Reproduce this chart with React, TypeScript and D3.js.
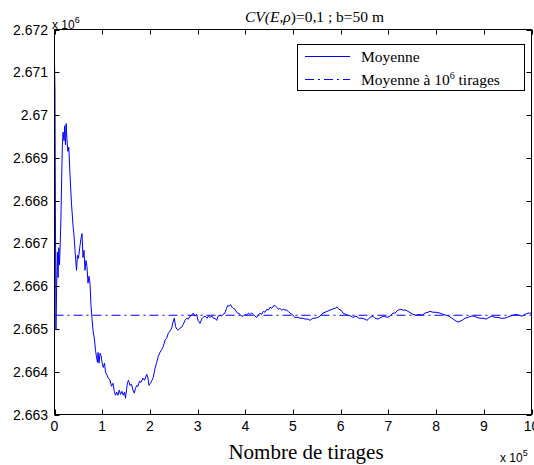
import React from 'react';
import * as d3 from 'd3';

// Nombre de tirages (x 10^5)
const tirages = [
  0, 0.01, 0.02, 0.03, 0.045, 0.06, 0.075, 0.09, 0.105, 0.12, 0.135, 0.15, 0.165, 0.18, 0.2, 0.215, 0.23, 0.245, 0.26,
  0.28, 0.3, 0.325, 0.356, 0.388, 0.409, 0.43, 0.461, 0.482, 0.503, 0.535, 0.556, 0.577, 0.597, 0.618, 0.639, 0.66,
  0.681, 0.702, 0.723, 0.744, 0.765, 0.786, 0.807, 0.839, 0.86, 0.881, 0.901, 0.912, 0.933, 0.954, 0.975, 0.996,
  1.023, 1.048, 1.069, 1.101, 1.128, 1.164, 1.195, 1.226, 1.254, 1.279, 1.304, 1.331, 1.358, 1.384, 1.415, 1.442,
  1.468, 1.488, 1.514, 1.53, 1.551, 1.583, 1.614, 1.646, 1.673, 1.698, 1.723, 1.751, 1.782, 1.813, 1.855, 1.887,
  1.933, 1.96, 1.981, 2.013, 2.044, 2.071, 2.107, 2.143, 2.176, 2.212, 2.247, 2.281, 2.317, 2.352, 2.386, 2.421,
  2.457, 2.484, 2.512, 2.537, 2.568, 2.595, 2.631, 2.666, 2.7, 2.736, 2.771, 2.805, 2.841, 2.876, 2.91, 2.945,
  2.981, 3.008, 3.05, 3.086, 3.113, 3.155, 3.197, 3.224, 3.26, 3.302, 3.329, 3.365, 3.4, 3.428, 3.47, 3.505,
  3.532, 3.574, 3.606, 3.631, 3.658, 3.69, 3.721, 3.748, 3.784, 3.82, 3.847, 3.889, 3.92, 3.958, 3.994, 4.029,
  4.067, 4.099, 4.13, 4.168, 4.203, 4.239, 4.266, 4.308, 4.34, 4.377, 4.413, 4.449, 4.486, 4.518, 4.553, 4.581,
  4.623, 4.654, 4.692, 4.727, 4.763, 4.801, 4.832, 4.868, 4.901, 4.937, 4.979, 5.042, 5.105, 5.147, 5.21, 5.252,
  5.315, 5.356, 5.419, 5.461, 5.524, 5.566, 5.629, 5.713, 5.776, 5.818, 5.881, 5.922, 5.964, 6.006, 6.048, 6.111,
  6.153, 6.216, 6.258, 6.321, 6.384, 6.447, 6.509, 6.551, 6.614, 6.677, 6.719, 6.782, 6.845, 6.908, 6.971, 7.034,
  7.096, 7.138, 7.201, 7.264, 7.306, 7.369, 7.411, 7.474, 7.516, 7.579, 7.642, 7.704, 7.767, 7.83, 7.872, 7.935,
  7.998, 8.082, 8.145, 8.208, 8.27, 8.333, 8.396, 8.459, 8.501, 8.543, 8.606, 8.669, 8.732, 8.795, 8.858, 8.92,
  8.983, 9.046, 9.109, 9.172, 9.235, 9.298, 9.361, 9.423, 9.486, 9.549, 9.612, 9.675, 9.738, 9.801, 9.864, 9.927, 10.0,
];

// Moyenne (x 10^6)
const moyenne = [
  2.67125, 2.6706, 2.6675, 2.665, 2.666, 2.6668, 2.6662, 2.6669, 2.6665, 2.667, 2.6676, 2.6685, 2.6693, 2.6696,
  2.6694, 2.66975, 2.6693, 2.6698, 2.66945, 2.66915, 2.66925, 2.6686, 2.66794, 2.66742, 2.66719, 2.66684,
  2.66637, 2.66672, 2.66665, 2.66695, 2.66712, 2.66723, 2.66667, 2.66684, 2.66637, 2.6666, 2.66646, 2.66607,
  2.66623, 2.66607, 2.66555, 2.66525, 2.66497, 2.66474, 2.6645, 2.66434, 2.66422, 2.66445, 2.6642, 2.66443,
  2.66438, 2.66422, 2.6641, 2.6642, 2.66399, 2.66392, 2.66385, 2.6638, 2.66366, 2.66373, 2.66354, 2.66345,
  2.66352, 2.66345, 2.66357, 2.66347, 2.66354, 2.66345, 2.66352, 2.66338, 2.66361, 2.66375, 2.6638, 2.66368,
  2.66371, 2.66357, 2.6635, 2.66361, 2.66368, 2.66366, 2.66378, 2.66375, 2.66385, 2.6638, 2.66394, 2.66385,
  2.66368, 2.66373, 2.6638, 2.66387, 2.66408, 2.66422, 2.66436, 2.66445, 2.66452, 2.66459, 2.66474, 2.66478,
  2.6649, 2.66495, 2.66502, 2.66516, 2.66525, 2.66506, 2.66499, 2.66497, 2.66502, 2.66504, 2.66511, 2.6652,
  2.66525, 2.66523, 2.6653, 2.66532, 2.66537, 2.6653, 2.66534, 2.6652, 2.66513, 2.66523, 2.66527, 2.6653,
  2.66525, 2.6653, 2.66527, 2.6653, 2.66525, 2.66525, 2.6652, 2.6653, 2.66532, 2.6653, 2.66534, 2.66537,
  2.66548, 2.66555, 2.66553, 2.66557, 2.66551, 2.66548, 2.66546, 2.66539, 2.66537, 2.66534, 2.6653, 2.6653,
  2.66534, 2.66532, 2.66537, 2.66534, 2.66537, 2.66534, 2.6653, 2.66527, 2.66532, 2.66537, 2.66534, 2.66541,
  2.66539, 2.66546, 2.66544, 2.66551, 2.66548, 2.66553, 2.66555, 2.66551, 2.66546, 2.66548, 2.66544, 2.66546,
  2.66544, 2.66544, 2.66541, 2.66537, 2.66534, 2.66527, 2.66527, 2.66525, 2.66525, 2.66523, 2.66523, 2.6652,
  2.66525, 2.66525, 2.66527, 2.6653, 2.66537, 2.66541, 2.66544, 2.66546, 2.66548, 2.66551, 2.66546, 2.66544,
  2.66537, 2.66534, 2.66532, 2.6653, 2.66527, 2.6653, 2.66525, 2.66525, 2.66523, 2.6652, 2.66527, 2.6653,
  2.66525, 2.66523, 2.66527, 2.6653, 2.66527, 2.6653, 2.66537, 2.66537, 2.66544, 2.66546, 2.66544, 2.66544,
  2.66541, 2.66537, 2.66534, 2.66532, 2.66534, 2.66532, 2.66537, 2.66539, 2.66541, 2.66539, 2.66539, 2.66537,
  2.66534, 2.66532, 2.6653, 2.66525, 2.6652, 2.66516, 2.66518, 2.6652, 2.66525, 2.66527, 2.6653, 2.6653,
  2.66527, 2.66525, 2.66525, 2.66523, 2.66527, 2.6653, 2.66527, 2.66527, 2.66525, 2.66525, 2.66527, 2.6653,
  2.66532, 2.66534, 2.66532, 2.6653, 2.66534, 2.66537, 2.66537,
];

// Moyenne à 10^6 tirages (x 10^6)
const moyenneRef = 2.66532;

const xTicks = [0, 1, 2, 3, 4, 5, 6, 7, 8, 9, 10];
const xTickLabels = ['0', '1', '2', '3', '4', '5', '6', '7', '8', '9', '10'];
const yTicks = [2.663, 2.664, 2.665, 2.666, 2.667, 2.668, 2.669, 2.67, 2.671, 2.672];
const yTickLabels = ['2.663', '2.664', '2.665', '2.666', '2.667', '2.668', '2.669', '2.67', '2.671', '2.672'];

const W = 534;
const H = 465;
const L = 54.5;
const R = 531.5;
const T = 29.5;
const B = 414.5;
const BLUE = '#0000ff';
const SANS = "'Liberation Sans', Arial, sans-serif";
const SERIF = "'Liberation Serif', 'Times New Roman', serif";

export default function App() {
  const x = d3.scaleLinear().domain([0, 10]).range([L, R]);
  const y = d3.scaleLinear().domain([2.663, 2.672]).range([B, T]);
  const pts: [number, number][] = tirages.map((t, i) => [t, moyenne[i]]);
  const line = d3
    .line<[number, number]>()
    .x((d) => x(d[0]))
    .y((d) => y(d[1]));
  const tick = 5;
  return (
    <svg
      width={W}
      height={H}
      style={{ position: 'absolute', left: 0, top: 0, background: '#fff' }}
    >
      <rect x={0} y={0} width={W} height={H} fill="#fff" />
      <defs>
        <clipPath id="plot">
          <rect x={L} y={T} width={R - L} height={B - T} />
        </clipPath>
      </defs>
      {/* reference line */}
      <line
        x1={L}
        x2={R}
        y1={y(moyenneRef)}
        y2={y(moyenneRef)}
        stroke={BLUE}
        strokeWidth={1}
        strokeDasharray="9,4,2,4"
      />
      <path d={line(pts) || ''} fill="none" stroke={BLUE} strokeWidth={1} clipPath="url(#plot)" />
      {/* box */}
      <rect x={L} y={T} width={R - L} height={B - T} fill="none" stroke="#000" strokeWidth={1} />
      {xTicks.map((t) => (
        <g key={'xt' + t}>
          <line x1={Math.round(x(t)) + 0.5} x2={Math.round(x(t)) + 0.5} y1={B} y2={B - tick} stroke="#000" />
          <line x1={Math.round(x(t)) + 0.5} x2={Math.round(x(t)) + 0.5} y1={T} y2={T + tick} stroke="#000" />
        </g>
      ))}
      {yTicks.map((t) => (
        <g key={'yt' + t}>
          <line x1={L} x2={L + tick} y1={Math.round(y(t)) + 0.5} y2={Math.round(y(t)) + 0.5} stroke="#000" />
          <line x1={R} x2={R - tick} y1={Math.round(y(t)) + 0.5} y2={Math.round(y(t)) + 0.5} stroke="#000" />
        </g>
      ))}
      {xTicks.map((t, i) => (
        <text key={'xl' + t} x={x(t)} y={431} textAnchor="middle" fontFamily={SANS} fontSize={14} fill="#000">
          {xTickLabels[i]}
        </text>
      ))}
      {yTicks.map((t, i) => (
        <text key={'yl' + t} x={48} y={y(t) + 5} textAnchor="end" fontFamily={SANS} fontSize={14} fill="#000">
          {yTickLabels[i]}
        </text>
      ))}
      {/* exponents */}
      <text x={52} y={29} fontFamily={SANS} fontSize={12} fill="#000">
        x 10
        <tspan dy={-6} fontSize={9}>6</tspan>
      </text>
      <text x={500} y={462} fontFamily={SANS} fontSize={12} fill="#000">
        x 10
        <tspan dy={-6} fontSize={9}>5</tspan>
      </text>
      {/* title */}
      <text x={245} y={22} fontFamily={SERIF} fontSize={15.5} fill="#000">
        <tspan fontStyle="italic">CV(E,ρ</tspan>
        <tspan>)=0,1 ; b=50 m</tspan>
      </text>
      {/* x label */}
      <text x={306} y={459} textAnchor="middle" fontFamily={SERIF} fontSize={21} fill="#000">
        Nombre de tirages
      </text>
      {/* legend */}
      <rect x={297.5} y={44.5} width={227} height={46} fill="#fff" stroke="#000" strokeWidth={1} />
      <line x1={305} x2={350} y1={56.5} y2={56.5} stroke={BLUE} strokeWidth={1} />
      <line x1={305} x2={350} y1={79.5} y2={79.5} stroke={BLUE} strokeWidth={1} strokeDasharray="9,4,2,4" />
      <text x={361} y={62} fontFamily={SERIF} fontSize={15.5} fill="#000">
        Moyenne
      </text>
      <text x={361} y={85} fontFamily={SERIF} fontSize={15.5} fill="#000">
        Moyenne à 10
        <tspan dy={-6} fontSize={10}>6</tspan>
        <tspan dy={6}> tirages</tspan>
      </text>
    </svg>
  );
}
